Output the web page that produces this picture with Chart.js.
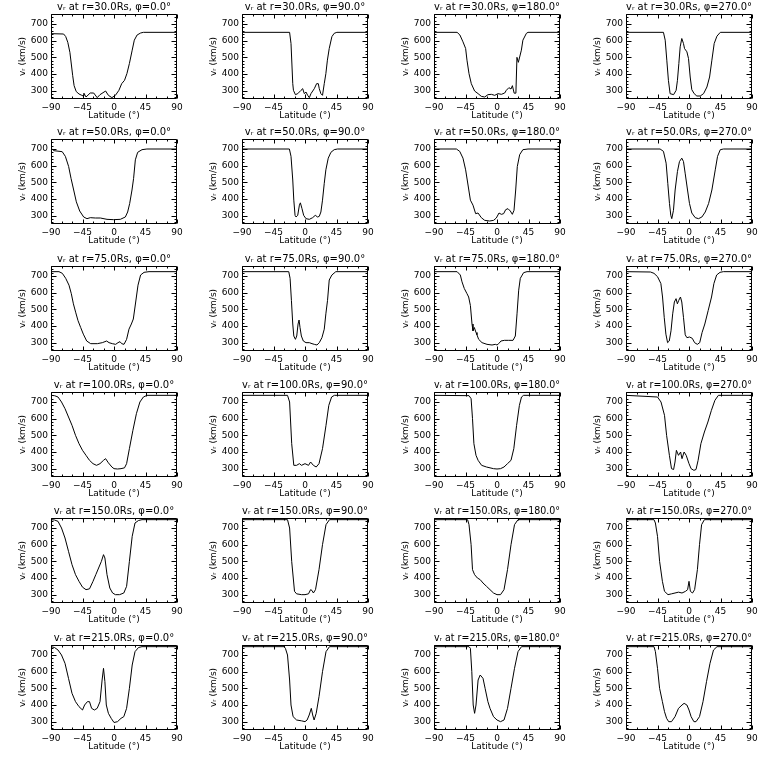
<!DOCTYPE html>
<html><head><meta charset="utf-8">
<script src="https://cdn.jsdelivr.net/npm/chart.js@4"></script>
<style>
html,body{margin:0;padding:0;background:#fff;}
#wrap{position:relative;width:768px;height:768px;overflow:hidden;background:#fff;}
canvas{position:absolute;}
</style>
</head><body><div id="wrap"></div>
<script>
// ---- data: latitude (deg) and v_r (km/s) per panel ----
const radii = [30, 50, 75, 100, 150, 215];
const phis = [0, 90, 180, 270];
const xTickValues = [-90, -45, 0, 45, 90];
const yTickValues = [300, 400, 500, 600, 700];

const lat_r30_p0 = [-90,-72,-69,-66,-63,-61,-59,-57,-54,-50,-46,-44,-43,-40,-34,-29,-24,-20,-12,-8,-3,2,7,11,15,18.5,22,26,29,33,38,42,90];
const v_r30_p0   = [642,640,625,590,530,460,390,330,295,280,272,268,285,262,286,286,258,276,298,272,258,272,302,342,362,403,463,543,603,634,646,650,650];
const lat_r30_p90 = [-90,-22,-20,-17.5,-16.5,-13.7,-10.4,-5.7,-3.3,-1,1.4,3.8,6.2,8.5,13.3,16.6,19,20.4,22.7,25,27.5,29.8,32,34.6,38.4,41.7,45.5,90];
const v_r30_p90   = [650,650,583,342,302,276,282,302,312,282,292,272,258,282,312,342,342,312,282,272,342,402,483,553,624,644,650,650];
const lat_r30_p180 = [-90,-57,-53,-48.6,-44.8,-42.9,-40,-36.7,-32,-27,-22.4,-17.6,-12.9,-8,-3.3,1.4,6.2,11,13.3,17,20,22,24.5,27,28.5,30.5,34.8,37,42,44.3,90];
const v_r30_p180   = [650,650,634,593,553,483,402,342,298,282,266,262,276,278,272,282,278,286,302,318,310,330,285,285,500,470,543,603,644,650,650];
const lat_r30_p270 = [-90,-36.5,-34,-31.7,-29.4,-27,-22,-18.4,-16.5,-14.5,-12.6,-10.3,-7.9,-6.4,-3,-0.7,1.7,4,7.4,11.2,16,20.8,25.6,29.4,32.7,36,39.9,44.7,90];
const v_r30_p270   = [650,650,603,483,362,282,276,302,362,463,563,613,583,553,533,493,382,306,282,268,268,282,322,382,483,583,627,650,650];

const lat_r50_p0 = [-90,-86,-74,-69.5,-64.8,-61.4,-57.6,-53.8,-49,-43.3,-38.6,-33.8,-26.7,-19.5,-10,-0.5,9,16.2,19.5,22.4,25.7,28,30.5,33.8,40,47,90];
const v_r50_p0   = [706,690,684,656,595,524,454,383,328,292,282,288,286,286,278,276,278,292,322,373,454,524,635,680,696,700,700];
const lat_r50_p90 = [-90,-22.3,-20,-17.5,-16,-14.2,-12.8,-10.4,-8,-6.6,-4.3,-1.9,1.4,6.2,10.9,14.7,18,20.4,22.7,25,27.5,29.8,33.2,37,41.7,46.4,90];
const v_r50_p90   = [700,700,656,514,393,302,292,302,363,377,342,302,282,278,288,302,292,296,322,393,494,575,645,680,696,700,700];
const lat_r50_p180 = [-90,-58,-53.3,-48.6,-44.8,-41.4,-38,-34.3,-30.5,-27.1,-22.4,-17.6,-10.5,-4.8,-1,2.9,6.2,9.5,12.4,15.7,19,21.9,24.3,26.7,29,32.4,37,44.3,90];
const v_r50_p180   = [700,700,686,645,575,484,393,363,312,316,288,272,268,272,286,316,308,312,336,342,328,308,332,454,595,666,696,700,700];
const lat_r50_p270 = [-90,-41.3,-36.5,-32.7,-30.3,-27.9,-26,-24.6,-22.2,-19.8,-16.5,-13.6,-10.3,-7.9,-5.5,-2.1,0.7,4,8.9,13.6,18.4,23.2,28,32.7,37.5,40.8,44.7,49.4,90];
const v_r50_p270   = [700,700,686,615,494,373,302,282,332,454,565,625,645,625,555,454,373,316,288,282,292,322,373,454,575,656,696,700,700];

const lat_r75_p0 = [-90,-78.6,-73.8,-69,-64.3,-61,-58,-54.8,-51.4,-47.6,-43.8,-39,-33.3,-23.8,-16.7,-10.5,-7.1,-2.4,2.4,5.7,8.6,11,14.3,18,21.4,24.8,27.6,31,34.3,38,42.9,50,90];
const v_r75_p0   = [726,726,716,686,645,594,533,483,432,391,351,310,294,294,300,310,300,294,290,300,306,294,290,320,381,412,442,544,645,706,722,726,726];
const lat_r75_p90 = [-90,-23.2,-21.3,-19.4,-17.5,-16,-13.7,-11.8,-9.9,-8.5,-7.1,-5.2,-2.4,1.4,6.2,10,13.3,17.1,20.4,24.2,27.5,29.8,32.2,34.6,38.4,44,90];
const v_r75_p90   = [726,726,686,554,412,340,320,340,412,436,391,340,310,300,300,294,290,286,300,330,381,473,554,676,706,726,726];
const lat_r75_p180 = [-90,-57,-52.4,-50,-46.7,-42.9,-40.5,-38,-35.7,-34.3,-32.4,-30,-28.6,-26.2,-21.4,-14.3,-7.1,-2.4,0,2.4,5.7,10.5,16.7,22.9,26.2,28.6,31,33.3,38,42.9,90];
const v_r75_p180   = [726,726,706,665,625,594,574,523,412,371,391,361,347,320,300,290,286,290,286,294,310,314,314,314,340,473,615,686,720,726,726];
const lat_r75_p270 = [-90,-55,-50,-45,-40.2,-37.8,-35.4,-33,-30.6,-28.2,-25.7,-23.3,-20.9,-18.5,-16.6,-14.6,-12.2,-10.3,-7.9,-5.4,-3,0.8,4.7,8,11.9,15.3,18.7,22.6,27.4,32.2,35.6,39.5,44.3,49.1,90];
const v_r75_p270   = [726,724,716,696,655,574,452,351,300,310,371,473,544,564,533,554,574,544,452,347,330,334,326,300,290,300,361,412,493,574,655,706,722,726,726];

const lat_r100_p0 = [-90,-85,-80,-75,-70,-65,-60,-55,-50,-45,-40,-35,-30,-25,-20,-15,-12,-8,-3,0,5,10,15,18,22,27,32,37,42,47,90];
const v_r100_p0   = [740,738,730,700,660,610,560,500,450,410,380,350,330,320,330,350,360,335,310,300,298,300,305,330,420,530,630,700,730,740,740];
const lat_r100_p90 = [-90,-25,-22,-19,-16,-12,-8,-5,0,5,8,12,16,20,25,30,34,38,42,90];
const v_r100_p90   = [740,740,700,450,320,320,330,320,330,320,340,320,310,330,420,560,680,730,740,740];
const lat_r100_p180 = [-90,-40,-37,-35,-33,-30,-27,-22,-15,-5,0,5,10,15,20,24,28,32,35,38,90];
const v_r100_p180   = [740,738,720,600,450,380,350,320,310,300,298,300,310,330,350,420,560,680,730,740,740];
const lat_r100_p270 = [-90,-45,-40,-35,-32,-28,-25,-22,-20,-18,-15,-12,-10,-7,-4,0,3,7,10,13,17,22,27,32,37,42,90];
const v_r100_p270   = [740,730,700,620,500,380,300,295,340,410,380,400,360,400,380,330,300,290,295,350,450,520,580,650,710,740,740];

const lat_r150_p0 = [-90,-85,-80,-75,-70,-65,-60,-55,-50,-45,-40,-35,-30,-26,-22,-18,-15,-13,-10,-6,-2,2,8,14,18,22,26,30,35,40,90];
const v_r150_p0   = [750,748,740,700,640,560,480,420,380,345,330,335,380,420,460,500,540,520,420,340,310,300,300,310,350,500,650,730,745,750,750];
const lat_r150_p90 = [-90,-25,-22,-19,-15,-12,-5,0,5,8,10,12,15,20,25,30,35,90];
const v_r150_p90   = [750,750,700,500,320,305,300,300,305,330,325,310,330,450,600,720,750,750];
const lat_r150_p180 = [-90,-42,-40,-37,-35,-32,-28,-24,-20,-15,-10,-5,0,5,10,15,20,25,30,90];
const v_r150_p180   = [750,750,720,600,450,420,400,390,370,350,330,310,300,300,330,450,600,720,750,750];
const lat_r150_p270 = [-90,-50,-48,-45,-42,-38,-35,-30,-25,-20,-15,-10,-5,-2,0,2,5,8,12,15,18,22,90];
const v_r150_p270   = [750,750,730,650,500,380,320,300,305,310,315,310,320,330,380,320,310,330,450,600,720,750,750];

const lat_r215_p0 = [-90,-85,-80,-75,-70,-65,-60,-55,-50,-45,-42,-38,-35,-32,-28,-24,-20,-17,-15,-13,-11,-8,-4,0,5,10,14,18,22,26,30,35,40,90];
const v_r215_p0   = [750,745,730,700,650,560,470,420,390,370,400,420,420,380,370,380,420,550,620,540,400,350,320,295,300,320,330,380,500,640,720,745,750,750];
const lat_r215_p90 = [-90,-30,-28,-25,-22,-20,-17,-12,-5,0,3,6,9,11,13,16,20,25,30,35,90];
const v_r215_p90   = [750,750,740,700,550,400,330,310,305,300,310,340,380,340,310,350,450,600,720,750,750];
const lat_r215_p180 = [-90,-40,-38,-36,-34,-32,-30,-27,-24,-20,-17,-13,-10,-5,0,5,10,15,20,25,30,35,90];
const v_r215_p180   = [750,750,740,600,400,350,400,550,580,560,500,420,380,330,310,300,310,380,500,620,720,750,750];
const lat_r215_p270 = [-90,-50,-48,-45,-42,-38,-35,-32,-29,-25,-20,-15,-10,-7,-3,0,3,7,10,15,20,25,30,35,40,90];
const v_r215_p270   = [750,750,720,620,500,420,360,320,300,300,330,380,400,410,400,370,330,300,300,330,420,540,650,730,750,750];

const panelData = [
  [[lat_r30_p0,v_r30_p0],[lat_r30_p90,v_r30_p90],[lat_r30_p180,v_r30_p180],[lat_r30_p270,v_r30_p270]],
  [[lat_r50_p0,v_r50_p0],[lat_r50_p90,v_r50_p90],[lat_r50_p180,v_r50_p180],[lat_r50_p270,v_r50_p270]],
  [[lat_r75_p0,v_r75_p0],[lat_r75_p90,v_r75_p90],[lat_r75_p180,v_r75_p180],[lat_r75_p270,v_r75_p270]],
  [[lat_r100_p0,v_r100_p0],[lat_r100_p90,v_r100_p90],[lat_r100_p180,v_r100_p180],[lat_r100_p270,v_r100_p270]],
  [[lat_r150_p0,v_r150_p0],[lat_r150_p90,v_r150_p90],[lat_r150_p180,v_r150_p180],[lat_r150_p270,v_r150_p270]],
  [[lat_r215_p0,v_r215_p0],[lat_r215_p90,v_r215_p90],[lat_r215_p180,v_r215_p180],[lat_r215_p270,v_r215_p270]]
];

// ---- layout ----
const colLeft = [0, 191, 383, 575];
const rowTop = [0, 125, 252, 378, 504, 631];
const CW = 192, CH = 126;
const FONT = "'DejaVu Sans', sans-serif";
const xMinorStep = 15, yMinorStep = 20;

Chart.defaults.font.family = FONT;
Chart.defaults.color = '#000';

const framePlugin = {
  id: 'frame',
  afterDatasetsDraw(chart) {
    const ctx = chart.ctx, a = chart.chartArea, xs = chart.scales.x, ys = chart.scales.y;
    ctx.save();
    ctx.strokeStyle = '#000';
    ctx.lineWidth = 1;
    const L = Math.round(a.left) + 0.5, R = Math.round(a.right) - 0.5;
    const T = Math.round(a.top) + 0.5, B = Math.round(a.bottom) - 0.5;
    ctx.beginPath();
    ctx.rect(L, T, R - L, B - T);
    for (let v = xs.min; v <= xs.max + 1e-9; v += xMinorStep) {
      const major = xTickValues.includes(v);
      const len = major ? 4 : 2;
      const px = Math.round(xs.getPixelForValue(v)) + 0.5;
      ctx.moveTo(px, B); ctx.lineTo(px, B - len);
      ctx.moveTo(px, T); ctx.lineTo(px, T + len);
    }
    for (let v = 260; v <= ys.max; v += yMinorStep) {
      const major = yTickValues.includes(v);
      const len = major ? 5 : 2;
      const py = Math.round(ys.getPixelForValue(v)) + 0.5;
      ctx.moveTo(L, py); ctx.lineTo(L + len, py);
      ctx.moveTo(R, py); ctx.lineTo(R - len, py);
    }
    ctx.stroke();
    ctx.restore();
  }
};

const fmtX = v => (v < 0 ? '\u2212' + Math.abs(v) : String(v));

const wrap = document.getElementById('wrap');
radii.forEach((r, ri) => {
  phis.forEach((phi, ci) => {
    const cv = document.createElement('canvas');
    cv.width = CW; cv.height = CH;
    cv.style.left = colLeft[ci] + 'px';
    cv.style.top = rowTop[ri] + 'px';
    cv.style.width = CW + 'px'; cv.style.height = CH + 'px';
    wrap.appendChild(cv);
    const [lats, vals] = panelData[ri][ci];
    new Chart(cv, {
      type: 'line',
      data: { datasets: [{
        data: lats.map((x, i) => ({ x: x, y: vals[i] })),
        borderColor: '#000', borderWidth: 1, pointRadius: 0, tension: 0, fill: false
      }]},
      plugins: [framePlugin],
      options: {
        responsive: false, animation: false, devicePixelRatio: 1,
        layout: { padding: { left: 0, right: 15, top: 0, bottom: 0 } },
        plugins: {
          legend: { display: false }, tooltip: { enabled: false },
          title: {
            display: true, fullSize: false,
            text: 'vᵣ at r=' + r.toFixed(1) + 'Rs, φ=' + phi.toFixed(1) + '°',
            color: '#000', font: { family: FONT, size: 10, weight: 'normal', lineHeight: 1.2 },
            padding: { top: 1, bottom: 1 }
          }
        },
        scales: {
          x: {
            type: 'linear', min: -90, max: 90,
            grid: { display: false, drawTicks: false }, border: { display: false },
            afterBuildTicks: s => { s.ticks = xTickValues.map(v => ({ value: v })); },
            afterFit: s => { s.height = 27; },
            ticks: { autoSkip: false, maxRotation: 0, padding: 3, color: '#000', font: { family: FONT, size: 9 }, callback: fmtX },
            title: { display: true, text: 'Latitude (°)', color: '#000', font: { family: FONT, size: 9 }, padding: { top: 0, bottom: 4.6 } }
          },
          y: {
            type: 'linear', min: 250, max: 760,
            grid: { display: false, drawTicks: false }, border: { display: false },
            afterBuildTicks: s => { s.ticks = yTickValues.map(v => ({ value: v })); },
            afterFit: s => { s.width = 51; },
            ticks: { autoSkip: false, padding: 3, color: '#000', font: { family: FONT, size: 9 } },
            title: { display: true, text: 'vᵣ (km/s)', color: '#000', font: { family: FONT, size: 9 }, padding: { top: 17, bottom: 0 } }
          }
        }
      }
    });
  });
});
</script>
</body></html>
